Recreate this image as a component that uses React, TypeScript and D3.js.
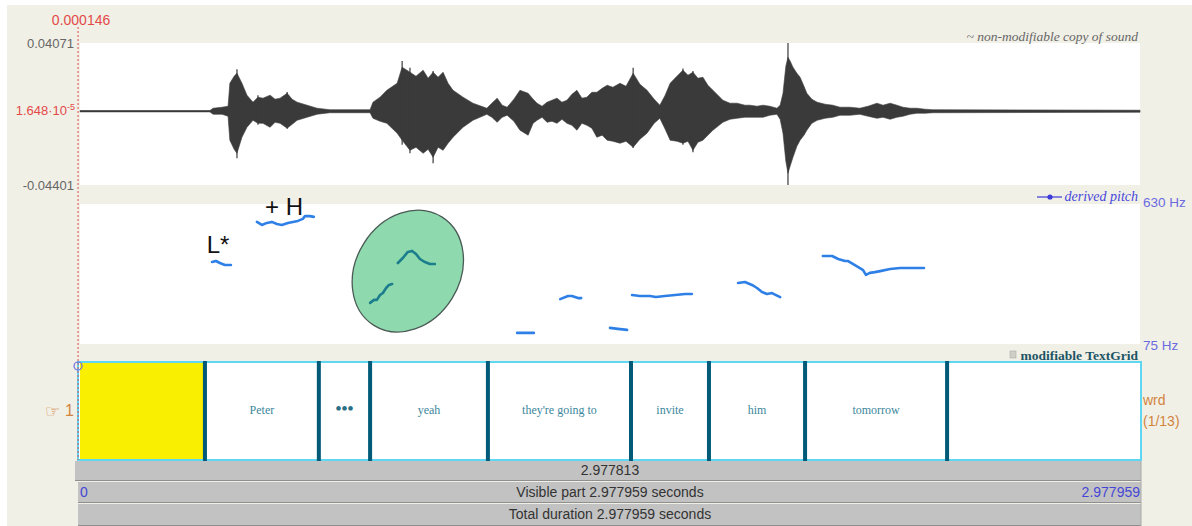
import React from 'react';
import * as d3 from 'd3';

// ---------- data ----------
const TOTAL = 2.977959; // seconds
const AMP_MAX = 40.71; // amplitude ×1e-3
const AMP_MIN = -44.01;
const PITCH_MIN = 75;
const PITCH_MAX = 630;

// waveform envelope (time s, upper ×1e-3, lower ×1e-3)
const waveTime = [0, 0.365, 0.374, 0.399, 0.416, 0.421, 0.433, 0.441, 0.455, 0.469, 0.486, 0.5, 0.514, 0.534, 0.548, 0.562, 0.582, 0.596, 0.61, 0.638, 0.666, 0.702, 0.815, 0.823, 0.843, 0.862, 0.891, 0.905, 0.927, 0.944, 0.964, 0.978, 0.992, 1.006, 1.02, 1.034, 1.048, 1.076, 1.104, 1.143, 1.157, 1.172, 1.186, 1.2, 1.219, 1.236, 1.259, 1.273, 1.284, 1.298, 1.312, 1.326, 1.34, 1.354, 1.368, 1.382, 1.396, 1.41, 1.424, 1.438, 1.452, 1.467, 1.481, 1.497, 1.517, 1.534, 1.554, 1.573, 1.593, 1.613, 1.629, 1.644, 1.658, 1.677, 1.694, 1.708, 1.722, 1.736, 1.75, 1.764, 1.778, 1.792, 1.806, 1.826, 1.846, 1.868, 1.882, 1.902, 1.919, 1.938, 1.958, 1.967, 1.975, 1.983, 1.989, 1.995, 2.003, 2.014, 2.023, 2.034, 2.042, 2.056, 2.071, 2.093, 2.115, 2.135, 2.163, 2.191, 2.214, 2.239, 2.256, 2.276, 2.295, 2.312, 2.332, 2.351, 2.374, 2.396, 2.978];
const waveUpper = [0.4, 0.4, 1.8, 2.4, 3.0, 16.7, 20.9, 22.7, 16.7, 9.6, 5.4, 8.4, 7.8, 9.6, 7.2, 7.8, 10.7, 7.2, 5.4, 3.6, 1.8, 0.9, 0.9, 5.4, 8.4, 12.5, 16.7, 26.3, 23.3, 20.9, 24.5, 19.7, 23.3, 20.3, 23.3, 16.7, 12.5, 8.4, 4.8, 1.8, 4.8, 7.8, 3.6, 2.4, 7.2, 12.5, 10.7, 7.2, 4.8, 3.0, 5.4, 6.6, 7.8, 5.4, 6.6, 10.1, 12.5, 7.8, 8.4, 11.3, 11.3, 13.7, 15.5, 14.3, 16.7, 14.9, 22.7, 16.1, 12.5, 7.2, 3.6, 9.6, 16.7, 20.9, 24.5, 21.5, 23.3, 19.7, 20.3, 15.5, 12.5, 9.6, 6.6, 4.8, 4.8, 3.6, 3.6, 3.0, 3.6, 3.0, 1.8, 3.6, 10.7, 26.9, 32.2, 29.9, 26.3, 22.7, 20.3, 14.9, 10.7, 7.2, 5.4, 4.2, 3.6, 2.4, 2.4, 1.8, 3.0, 4.8, 3.6, 4.8, 3.6, 2.4, 1.8, 1.8, 1.2, 0.9, 0.6];
const waveLower = [-0.4, -0.4, -1.8, -1.8, -3.0, -17.3, -22.7, -25.1, -15.5, -9.6, -5.4, -7.2, -7.2, -9.6, -6.6, -7.2, -10.1, -7.8, -5.4, -3.6, -1.8, -0.9, -0.9, -4.2, -6.0, -7.2, -13.1, -17.3, -23.3, -21.5, -25.1, -22.7, -27.5, -21.5, -23.3, -19.1, -15.5, -9.6, -5.4, -1.8, -3.6, -6.6, -3.6, -2.4, -6.0, -11.3, -14.3, -7.2, -5.4, -3.6, -6.6, -6.0, -7.2, -4.8, -7.2, -8.4, -11.3, -7.2, -8.4, -10.1, -15.5, -14.3, -17.3, -17.9, -19.1, -17.9, -21.5, -16.7, -13.1, -7.2, -4.2, -10.7, -17.3, -17.9, -19.1, -17.9, -23.3, -18.5, -17.3, -14.3, -11.3, -9.0, -6.6, -4.8, -4.2, -3.6, -3.6, -3.6, -3.6, -2.4, -1.8, -4.8, -13.1, -29.9, -37.0, -32.8, -27.5, -20.9, -17.3, -14.3, -11.3, -7.2, -5.4, -4.2, -3.6, -2.4, -2.4, -1.8, -3.0, -4.2, -3.6, -4.8, -3.6, -3.0, -1.8, -1.2, -1.2, -0.9, -0.6];
// isolated peaks [time, max, min]
const wavePeaks = [[1.989, 40.7, -44.0], [0.441, 25.0, -28.0], [0.905, 30.0, -20.0], [0.992, 24.0, -31.0], [1.554, 26.0, -22.0], [0.927, 26.0, -25.0], [1.694, 25.5, -20.0], [1.722, 24.0, -24.5], [0.5, 9.5, -8.0], [0.582, 11.5, -10.5]];

// pitch contours [time s, Hz]
const pitchSegments = [
  [[0.371, 400], [0.382, 404], [0.393, 396], [0.407, 388], [0.424, 388]],
  [[0.497, 559], [0.511, 547], [0.525, 555], [0.539, 559], [0.553, 551], [0.567, 547], [0.584, 555], [0.598, 559], [0.612, 563], [0.626, 571], [0.632, 582], [0.646, 582], [0.657, 579]],
  [[1.228, 119], [1.25, 119], [1.275, 119]],
  [[1.349, 253], [1.371, 265], [1.382, 265], [1.399, 257], [1.408, 257]],
  [[1.489, 139], [1.511, 135], [1.537, 131]],
  [[1.551, 269], [1.573, 265], [1.601, 265], [1.618, 261], [1.643, 265], [1.672, 269], [1.7, 273], [1.719, 273]],
  [[1.849, 317], [1.868, 321], [1.888, 309], [1.902, 297], [1.916, 281], [1.93, 273], [1.944, 277], [1.967, 261]],
  [[2.087, 424], [2.113, 424], [2.13, 412], [2.149, 404], [2.158, 404], [2.177, 388], [2.191, 376], [2.2, 368], [2.208, 349], [2.219, 357], [2.233, 360], [2.248, 364], [2.276, 372], [2.304, 376], [2.332, 376], [2.371, 376]],
];
const highlightedSegments = [
  [[0.815, 238], [0.826, 250], [0.834, 250], [0.843, 269], [0.851, 277], [0.86, 297], [0.868, 309], [0.877, 313]],
  [[0.893, 396], [0.907, 416], [0.921, 440], [0.933, 444], [0.944, 432], [0.955, 412], [0.969, 400], [0.983, 392], [0.997, 392]],
];
const highlightCenter = [0.921, 364];

const annotations = [
  { label: 'L*', t: 0.356, hz: 436 },
  { label: '+ H', t: 0.52, hz: 585 },
];

const boundaries = [0.351, 0.671, 0.815, 1.146, 1.548, 1.767, 2.037, 2.436];
const intervalLabels = ['', 'Peter', '•••', 'yeah', "they're going to", 'invite', 'him', 'tomorrow', ''];

const cursorTime = 0.000146;
const selectedLength = '2.977813';

// ---------- layout ----------
const W = 1192;
const H = 526;
const L = 80;
const R = 1140;
const SOUND_TOP = 43;
const SOUND_BOT = 185;
const PITCH_TOP = 204;
const PITCH_BOT = 344;
const TIER_TOP = 362;
const TIER_BOT = 460;

const SANS = '"Liberation Sans", Arial, sans-serif';
const SERIF = '"Liberation Serif", "Times New Roman", serif';

export default function App() {
  const x = d3.scaleLinear().domain([0, TOTAL]).range([L, R]);
  const yW = d3.scaleLinear().domain([AMP_MIN, AMP_MAX]).range([SOUND_BOT, SOUND_TOP]);
  const yP = d3.scaleLinear().domain([PITCH_MIN, PITCH_MAX]).range([PITCH_BOT, PITCH_TOP]);

  const waveArea = d3
    .area<number>()
    .x((_, i) => x(waveTime[i]))
    .y0((_, i) => yW(waveLower[i]))
    .y1((_, i) => yW(waveUpper[i]));

  const pitchLine = d3
    .line<number[]>()
    .x((d) => x(d[0]))
    .y((d) => yP(d[1]));

  const intervals = [0, ...boundaries, TOTAL];
  const cx = x(cursorTime) - 2;

  return (
    <>
      <style>{`body{margin:0}`}</style>
      <svg width={W} height={H} style={{ display: 'block' }}>
        <rect x={0} y={0} width={W} height={H} fill="#ffffff" />
        <rect x={7} y={5} width={W - 7} height={H - 5} fill="#F1F0E6" />

        {/* sound panel */}
        <rect x={L} y={SOUND_TOP} width={R - L} height={SOUND_BOT - SOUND_TOP} fill="#ffffff" />
        <line x1={L} x2={R} y1={yW(0)} y2={yW(0)} stroke="#444" strokeWidth={1} />
        <path d={waveArea(waveTime) || ''} fill="#3a3a3a" stroke="#3a3a3a" strokeWidth={0.6} />
        {wavePeaks.map((p, i) => (
          <line key={i} x1={x(p[0])} x2={x(p[0])} y1={yW(p[1])} y2={yW(p[2])} stroke="#3a3a3a" strokeWidth={1.2} />
        ))}
        <text x={R - 2} y={41} textAnchor="end" fontFamily={SERIF} fontStyle="italic" fontSize={13.5} fill="#666">
          ~ non-modifiable copy of sound
        </text>
        <text x={74} y={48} textAnchor="end" fontFamily={SANS} fontSize={13} fill="#666">
          {AMP_MAX / 1000}
        </text>
        <text x={74} y={190} textAnchor="end" fontFamily={SANS} fontSize={13} fill="#666">
          {AMP_MIN / 1000}
        </text>
        <text x={75} y={115} textAnchor="end" fontFamily={SANS} fontSize={13} fill="#E24A4A">
          1.648·10
          <tspan fontSize={9} dy={-5}>-5</tspan>
        </text>
        <text x={cx + 3} y={25} textAnchor="middle" fontFamily={SANS} fontSize={14} fill="#E24A4A">
          {cursorTime.toFixed(6)}
        </text>

        {/* pitch panel */}
        <rect x={L} y={PITCH_TOP} width={R - L} height={PITCH_BOT - PITCH_TOP} fill="#ffffff" />
        <line x1={1037} x2={1062} y1={197} y2={197} stroke="#3b3bd9" strokeWidth={1.2} />
        <circle cx={1050} cy={197} r={2.6} fill="#3b3bd9" />
        <text x={R - 2} y={201} textAnchor="end" fontFamily={SERIF} fontStyle="italic" fontSize={14} fill="#4747dd">
          derived pitch
        </text>
        <text x={1143} y={207} fontFamily={SANS} fontSize={13.5} fill="#6a6ae0">
          {PITCH_MAX} Hz
        </text>
        <text x={1143} y={350} fontFamily={SANS} fontSize={13.5} fill="#6a6ae0">
          {PITCH_MIN} Hz
        </text>
        {pitchSegments.map((s, i) => (
          <path key={i} d={pitchLine(s) || ''} fill="none" stroke="#2E80E6" strokeWidth={2.6} strokeLinejoin="round" strokeLinecap="round" />
        ))}
        <ellipse
          cx={x(highlightCenter[0])}
          cy={yP(highlightCenter[1])}
          rx={64}
          ry={52}
          transform={`rotate(-58 ${x(highlightCenter[0])} ${yP(highlightCenter[1])})`}
          fill="#8ED9AE"
          stroke="#4a5a55"
          strokeWidth={1.3}
        />
        {highlightedSegments.map((s, i) => (
          <path key={i} d={pitchLine(s) || ''} fill="none" stroke="#1C7E8C" strokeWidth={2.6} strokeLinejoin="round" strokeLinecap="round" />
        ))}
        {annotations.map((a) => (
          <text key={a.label} x={x(a.t)} y={yP(a.hz)} fontFamily={SANS} fontSize={24} fill="#111">
            {a.label}
          </text>
        ))}

        {/* textgrid */}
        <rect x={1010} y={351} width={6} height={7} fill="#cfcfc8" stroke="#aaa" strokeWidth={0.6} />
        <text x={R - 2} y={360} textAnchor="end" fontFamily={SERIF} fontWeight="bold" fontSize={13.5} fill="#1d5566">
          modifiable TextGrid
        </text>
        <rect x={L - 2} y={TIER_TOP} width={R - L + 3} height={TIER_BOT - TIER_TOP} fill="#ffffff" stroke="#5FD6F2" strokeWidth={2} />
        <rect x={L} y={TIER_TOP + 1} width={x(boundaries[0]) - L} height={TIER_BOT - TIER_TOP - 2} fill="#F8F000" />
        {intervalLabels.map((lab, i) => (
          <text
            key={i}
            x={(x(intervals[i]) + x(intervals[i + 1])) / 2}
            y={lab === '•••' ? 414 : 414}
            textAnchor="middle"
            fontFamily={SERIF}
            fontSize={lab === '•••' ? 17 : 12}
            fill={lab === '•••' ? '#2a6f86' : '#3C879C'}
            fontWeight={lab === '•••' ? 'bold' : 'normal'}
          >
            {lab}
          </text>
        ))}
        {boundaries.map((b, i) => (
          <line key={i} x1={x(b)} x2={x(b)} y1={TIER_TOP - 1} y2={TIER_BOT + 1} stroke="#005A78" strokeWidth={4} />
        ))}
        <text x={45} y={417} fontFamily={'"DejaVu Sans", sans-serif'} fontSize={17} fill="#D2843F">
          ☞
        </text>
        <text x={65} y={416} fontFamily={SANS} fontSize={16} fill="#D2843F">
          1
        </text>
        <text x={1143} y={405} fontFamily={SANS} fontSize={14} fill="#D2843F">
          wrd
        </text>
        <text x={1143} y={426} fontFamily={SANS} fontSize={14} fill="#D2843F">
          (1/13)
        </text>

        {/* cursor */}
        <line x1={cx} x2={cx} y1={27} y2={TIER_BOT} stroke="#E24A4A" strokeWidth={1} strokeDasharray="2,2" />
        <circle cx={cx} cy={366} r={4} fill="none" stroke="#6a6ae0" strokeWidth={1.2} />

        {/* bottom bars */}
        <rect x={75} y={461} width={R - 75 + 1} height={19} fill="#C2C2C2" />
        <line x1={75} x2={R + 1} y1={480.5} y2={480.5} stroke="#8f8f8f" strokeWidth={1.2} />
        <rect x={78} y={482} width={R - 78 + 1} height={20} fill="#C2C2C2" />
        <line x1={78} x2={R + 1} y1={502.5} y2={502.5} stroke="#8f8f8f" strokeWidth={1.2} />
        <rect x={78} y={504} width={R - 78 + 1} height={21} fill="#C2C2C2" />
        <line x1={78} x2={R + 1} y1={525.5} y2={525.5} stroke="#8f8f8f" strokeWidth={1.2} />
        <line x1={R + 1} x2={R + 1} y1={461} y2={526} stroke="#aaa" strokeWidth={1} />
        <text x={(L + R) / 2} y={475} textAnchor="middle" fontFamily={SANS} fontSize={14} fill="#333">
          {selectedLength}
        </text>
        <text x={(L + R) / 2} y={497} textAnchor="middle" fontFamily={SANS} fontSize={14} fill="#333">
          Visible part {TOTAL} seconds
        </text>
        <text x={80} y={497} fontFamily={SANS} fontSize={14} fill="#4646d6">
          0
        </text>
        <text x={R} y={497} textAnchor="end" fontFamily={SANS} fontSize={14} fill="#4646d6">
          {TOTAL}
        </text>
        <text x={(L + R) / 2} y={519} textAnchor="middle" fontFamily={SANS} fontSize={14} fill="#333">
          Total duration {TOTAL} seconds
        </text>
      </svg>
    </>
  );
}
